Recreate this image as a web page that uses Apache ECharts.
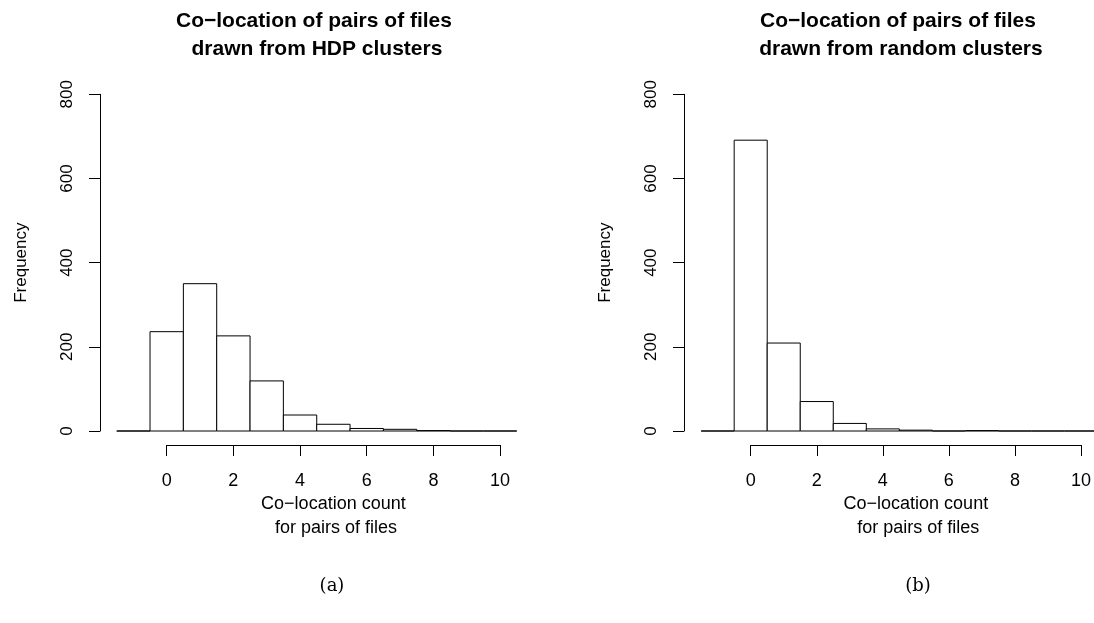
<!DOCTYPE html>
<html>
<head>
<meta charset="utf-8">
<script src="https://cdn.jsdelivr.net/npm/echarts@6/dist/echarts.min.js"></script>
<style>html,body{margin:0;padding:0;background:#fff}#c{width:1094px;height:623px}</style>
</head>
<body>
<div id="c"></div>
<script>
// Histogram bins (centres, unit width) and frequencies
const binCenters = [-1, 0, 1, 2, 3, 4, 5, 6, 7, 8, 9, 10];
const hdpCounts = [0, 236, 350, 226, 119, 38, 16, 6, 4, 1, 0, 0];
const randomCounts = [0, 691, 209, 70, 18, 5, 2, 0, 1, 0, 0, 0];
const xTicks = [0, 2, 4, 6, 8, 10];
const yTicks = [0, 200, 400, 600, 800];
const titleA = 'Co\u2212location of pairs of files\n drawn from HDP clusters';
const titleB = 'Co\u2212location of pairs of files\n drawn from random clusters';
const xName = 'Co\u2212location count\n for pairs of files';
const yName = 'Frequency';

const FONT = 'Liberation Sans, Arial, Helvetica, sans-serif';

function binData(counts) {
  return binCenters.map((c, i) => [c - 0.5, c + 0.5, counts[i]]);
}

function renderItem(params, api) {
  const p0 = api.coord([api.value(0), api.value(2)]);
  const p1 = api.coord([api.value(1), 0]);
  return {
    type: 'rect',
    shape: { x: p0[0], y: p0[1], width: p1[0] - p0[0], height: p1[1] - p0[1] },
    style: { fill: '#fff', stroke: '#000', lineWidth: 1 }
  };
}

const gridLefts = [166.7, 750.7];
const grids = gridLefts.map(l => ({ left: l, width: 333.4, top: 94.3, height: 336.7 }));

function xAxisFor(i) {
  return {
    type: 'value', gridIndex: i, min: xTicks[0], max: xTicks[xTicks.length - 1], interval: 2,
    offset: 14,
    axisLine: { show: true, onZero: false, lineStyle: { color: '#000', width: 1 } },
    axisTick: { show: true, length: 11, lineStyle: { color: '#000' } },
    axisLabel: { margin: 27, color: '#000', fontSize: 18, fontFamily: FONT },
    splitLine: { show: false },
    name: xName, nameLocation: 'middle', nameGap: 47, nameMoveOverlap: false,
    nameTextStyle: { color: '#000', fontSize: 18, fontFamily: FONT, lineHeight: 24 }
  };
}
function yAxisFor(i) {
  return {
    type: 'value', gridIndex: i, min: yTicks[0], max: yTicks[yTicks.length - 1], interval: 200,
    offset: 66.7,
    axisLine: { show: true, onZero: false, lineStyle: { color: '#000', width: 1 } },
    axisTick: { show: true, length: 11, lineStyle: { color: '#000' } },
    axisLabel: { margin: 24, color: '#000', fontSize: 17, fontFamily: FONT, rotate: 90 },
    splitLine: { show: false },
    name: yName, nameLocation: 'middle', nameGap: 70,
    nameTextStyle: { color: '#000', fontSize: 17, fontFamily: FONT }
  };
}

const chart = echarts.init(document.getElementById('c'));
chart.setOption({
  backgroundColor: '#fff',
  animation: false,
  grid: grids,
  xAxis: [xAxisFor(0), xAxisFor(1)],
  yAxis: [yAxisFor(0), yAxisFor(1)],
  series: [
    { type: 'custom', xAxisIndex: 0, yAxisIndex: 0, clip: false, renderItem, data: binData(hdpCounts) },
    { type: 'custom', xAxisIndex: 1, yAxisIndex: 1, clip: false, renderItem, data: binData(randomCounts) }
  ],
  graphic: [
    { type: 'text', x: 314, y: 7, style: { text: titleA, textAlign: 'center', font: 'bold 21px ' + FONT, fill: '#000', lineHeight: 28 } },
    { type: 'text', x: 898, y: 7, style: { text: titleB, textAlign: 'center', font: 'bold 21px ' + FONT, fill: '#000', lineHeight: 28 } },
    { type: 'text', x: 332, y: 586, style: { text: '(a)', textAlign: 'center', textVerticalAlign: 'middle', font: '18px DejaVu Serif, Liberation Serif, serif', fill: '#000' } },
    { type: 'text', x: 918, y: 586, style: { text: '(b)', textAlign: 'center', textVerticalAlign: 'middle', font: '18px DejaVu Serif, Liberation Serif, serif', fill: '#000' } }
  ]
});
</script>
</body>
</html>
